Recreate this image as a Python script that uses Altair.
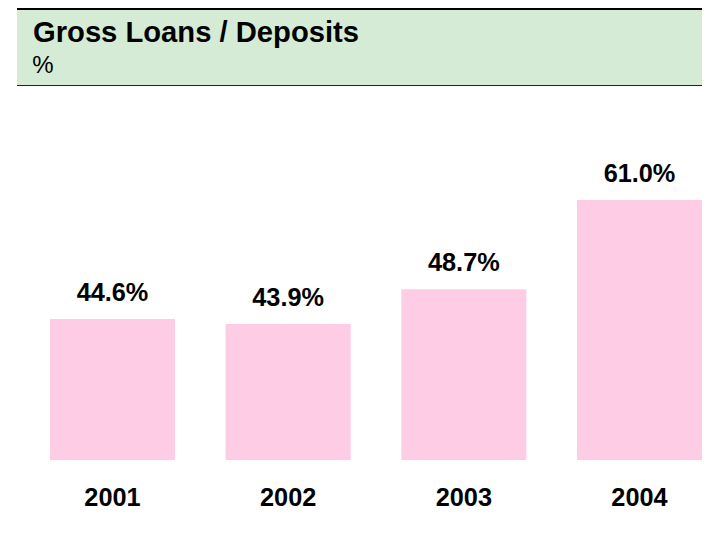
import altair as alt
import pandas as pd

years = ["2001", "2002", "2003", "2004"]
ratios = [44.6, 43.9, 48.7, 61.0]
title_text = "Gross Loans / Deposits"
subtitle_text = "%"

df = pd.DataFrame({"year": years, "ratio": ratios})

Y_MIN = 25.17
Y_MAX = 87.46
FONT = "Liberation Sans"
W = 694

x = alt.X(
    "year:N",
    sort=years,
    scale=alt.Scale(paddingInner=0.2884, paddingOuter=0.1195, align=1),
    axis=alt.Axis(
        title=None, domain=False, ticks=False, tickSize=0, labelAngle=0,
        labelFontSize=25.3, labelFontWeight="bold", labelColor="black",
        labelFont=FONT, labelPadding=45, labelBaseline="alphabetic", grid=False,
    ),
)
y = alt.Y("ratio:Q", scale=alt.Scale(domain=[Y_MIN, Y_MAX], nice=False, zero=False), axis=None)

bars = alt.Chart(df).mark_bar(color="#ffcce6").encode(x=x, y=y, y2=alt.datum(Y_MIN))
labels = (
    alt.Chart(df)
    .transform_calculate(lbl="format(datum.ratio, '.1f') + '%'")
    .mark_text(fontSize=25.3, fontWeight="bold", font=FONT, color="black",
               baseline="alphabetic", align="center", dy=-18)
    .encode(x=x, y=y, text="lbl:N")
)

one = alt.Data(values=[{}])
band = alt.Chart(one).mark_rect(color="#d5ebd6").encode(
    x=alt.value(9), x2=alt.value(W), y=alt.value(2), y2=alt.value(77))
top_rule = alt.Chart(one).mark_rule(color="black", strokeWidth=2).encode(
    x=alt.value(9), x2=alt.value(W), y=alt.value(1))
bottom_rule = alt.Chart(one).mark_rule(color="#222222", strokeWidth=1).encode(
    x=alt.value(9), x2=alt.value(W), y=alt.value(77.5))
title = alt.Chart(one).mark_text(
    text=title_text, align="left", baseline="alphabetic", fontSize=29.2,
    fontWeight="bold", font=FONT, color="black").encode(x=alt.value(25), y=alt.value(34))
subtitle = alt.Chart(one).mark_text(
    text=subtitle_text, align="left", baseline="alphabetic", fontSize=24,
    font=FONT, color="black").encode(x=alt.value(24.3), y=alt.value(65.3))

chart = (
    alt.layer(band, top_rule, bottom_rule, title, subtitle, bars, labels)
    .properties(width=W, height=452, autosize="none",
                padding={"left": 0, "top": 0, "right": 0, "bottom": 73})
    .configure(background="white")
    .configure_view(stroke="transparent", strokeWidth=0)
    .configure_axis(grid=False, domain=False)
)

chart.save("out.html", embed_options={"renderer": "svg", "actions": False})
